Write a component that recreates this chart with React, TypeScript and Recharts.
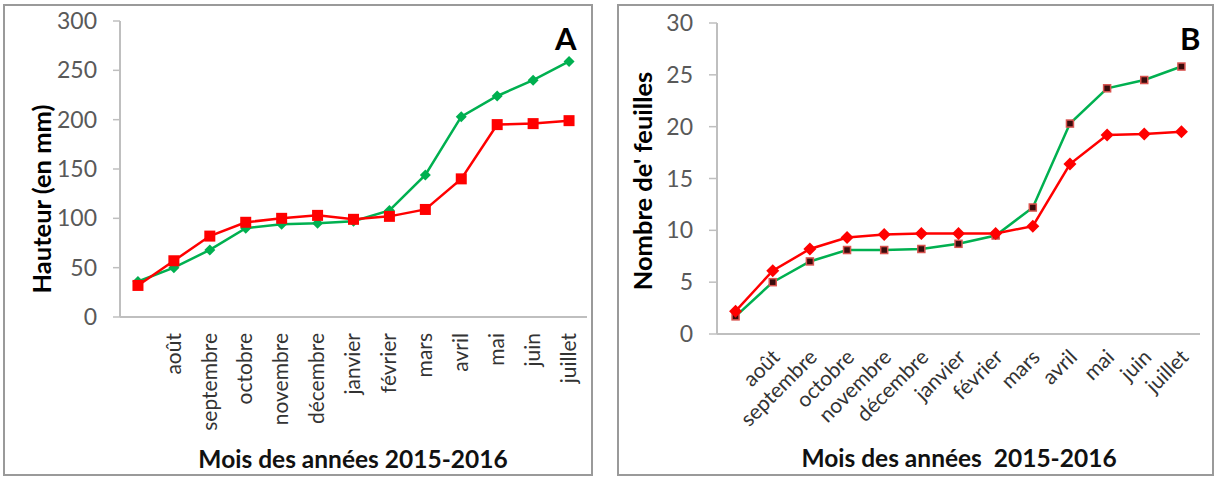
import { LineChart, Line, XAxis, YAxis } from "recharts";

const months = [
  "",
  "août",
  "septembre",
  "octobre",
  "novembre",
  "décembre",
  "janvier",
  "février",
  "mars",
  "avril",
  "mai",
  "juin",
  "juillet",
];

// A : hauteur (mm)
const hauteurVert = [36, 50, 68, 90, 94, 95, 97, 108, 144, 203, 224, 240, 259];
const hauteurRouge = [32, 57, 82, 96, 100, 103, 99, 102, 109, 140, 195, 196, 199];
const ticksA = [0, 50, 100, 150, 200, 250, 300];

// B : nombre de feuilles
const feuillesVert = [1.7, 5.0, 7.0, 8.1, 8.1, 8.2, 8.7, 9.5, 12.2, 20.3, 23.7, 24.5, 25.8];
const feuillesRouge = [2.2, 6.1, 8.2, 9.3, 9.6, 9.7, 9.7, 9.7, 10.4, 16.4, 19.2, 19.3, 19.5];
const ticksB = [0, 5, 10, 15, 20, 25, 30];

const GREEN = "#00b050";
const RED = "#ff0000";
const AXIS = "#bfbfbf";
const FONT = "Lato, 'Noto Sans', sans-serif";

const dataA = months.map((m, i) => ({ mois: m, vert: hauteurVert[i], rouge: hauteurRouge[i] }));
const dataB = months.map((m, i) => ({ mois: m, vert: feuillesVert[i], rouge: feuillesRouge[i] }));

const diamond = (r: number, fill: string) => (props: any) => {
  const { cx, cy, index } = props;
  if (cx == null || cy == null) return <g key={index} />;
  return (
    <polygon
      key={index}
      points={`${cx},${cy - r} ${cx + r},${cy} ${cx},${cy + r} ${cx - r},${cy}`}
      fill={fill}
    />
  );
};

const square = (s: number, fill: string) => (props: any) => {
  const { cx, cy, index } = props;
  if (cx == null || cy == null) return <g key={index} />;
  return <rect key={index} x={cx - s / 2} y={cy - s / 2} width={s} height={s} fill={fill} />;
};

const darkSquare = (props: any) => {
  const { cx, cy, index } = props;
  if (cx == null || cy == null) return <g key={index} />;
  return (
    <rect
      key={index}
      x={cx - 3.5}
      y={cy - 3.5}
      width={7}
      height={7}
      fill="#3a0c0c"
      stroke="#d9534f"
      strokeWidth={1.5}
    />
  );
};

const VerticalTick = (props: any) => {
  const { x, y, payload } = props;
  const ty = y + 16;
  return (
    <text
      x={x}
      y={ty}
      dy="0.32em"
      transform={`rotate(-90 ${x} ${ty})`}
      textAnchor="end"
      fill="#333"
      fontSize={21}
      fontFamily={FONT}
    >
      {payload.value}
    </text>
  );
};

const SlantTick = (props: any) => {
  const { x, y, payload } = props;
  const tx = x + 4;
  const ty = y + 20;
  return (
    <text
      x={tx}
      y={ty}
      dy="0.3em"
      transform={`rotate(-45 ${tx} ${ty})`}
      textAnchor="end"
      fill="#333"
      fontSize={21}
      fontFamily={FONT}
    >
      {payload.value}
    </text>
  );
};

const yTitle = (text: string, cx: number, cy: number) => () => (
  <text
    x={cx}
    y={cy}
    dy="0.35em"
    transform={`rotate(-90 ${cx} ${cy})`}
    textAnchor="middle"
    fontSize={25.5}
    fontWeight={700}
    fontFamily={FONT}
    fill="#000"
  >
    {text}
  </text>
);

const xTitle = (text: string, cx: number, baseline: number) => () => (
  <text
    x={cx}
    y={baseline}
    textAnchor="middle"
    fontSize={24.5}
    fontWeight={700}
    fontFamily={FONT}
    fill="#111"
    style={{ whiteSpace: "pre" }}
  >
    {text}
  </text>
);

const panelBorder = (left: number, width: number) => ({
  position: "absolute" as const,
  left,
  top: 4,
  width,
  height: 472,
  border: "2px solid #9a9a9a",
  boxSizing: "border-box" as const,
});

const letter = (left: number) => ({
  position: "absolute" as const,
  left,
  top: 18,
  fontFamily: FONT,
  fontWeight: 700,
  fontSize: 31,
  lineHeight: "40px",
  color: "#000",
});

export default function App() {
  const plotA = 467;
  const plotB = 483;
  const padA = plotA / (2 * months.length);
  const padB = plotB / (2 * months.length);

  return (
    <div style={{ position: "absolute", left: 0, top: 0, width: 1220, height: 481, background: "#fff" }}>
      <div style={panelBorder(3, 590)} />
      <div style={panelBorder(617, 597)} />

      <div style={{ position: "absolute", left: 0, top: 0 }}>
        <LineChart width={610} height={481} data={dataA} margin={{ top: 21, right: 23, left: 0, bottom: 0 }}>
          <XAxis
            dataKey="mois"
            height={164}
            padding={{ left: padA, right: padA }}
            axisLine={{ stroke: AXIS, strokeWidth: 2 }}
            tickLine={false}
            tickSize={0}
            tickMargin={0}
            interval={0}
            tick={<VerticalTick />}
            label={xTitle("Mois des années 2015-2016", 353, 468)}
          />
          <YAxis
            width={120}
            domain={[0, 300]}
            ticks={ticksA}
            axisLine={{ stroke: AXIS, strokeWidth: 2 }}
            tickLine={{ stroke: AXIS, strokeWidth: 1.5 }}
            tickSize={7}
            tickMargin={16}
            tick={{ fill: "#595959", fontSize: 23, fontFamily: FONT }}
            label={yTitle("Hauteur (en mm)", 42, 199)}
          />
          <Line
            dataKey="vert"
            stroke={GREEN}
            strokeWidth={2.5}
            dot={diamond(5.5, GREEN)}
            isAnimationActive={false}
          />
          <Line
            dataKey="rouge"
            stroke={RED}
            strokeWidth={2.5}
            dot={square(11, RED)}
            isAnimationActive={false}
          />
        </LineChart>
      </div>

      <div style={{ position: "absolute", left: 610, top: 0 }}>
        <LineChart width={610} height={481} data={dataB} margin={{ top: 23, right: 20, left: 0, bottom: 0 }}>
          <XAxis
            dataKey="mois"
            height={147}
            padding={{ left: padB, right: padB }}
            axisLine={{ stroke: AXIS, strokeWidth: 2 }}
            tickLine={false}
            tickSize={0}
            tickMargin={0}
            interval={0}
            tick={<SlantTick />}
            label={xTitle("Mois des années  2015-2016", 349, 467)}
          />
          <YAxis
            width={107}
            domain={[0, 30]}
            ticks={ticksB}
            axisLine={{ stroke: AXIS, strokeWidth: 2 }}
            tickLine={{ stroke: AXIS, strokeWidth: 1.5 }}
            tickSize={8}
            tickMargin={16}
            tick={{ fill: "#595959", fontSize: 23, fontFamily: FONT }}
            label={yTitle("Nombre de' feuilles", 33, 181)}
          />
          <Line
            dataKey="vert"
            stroke={GREEN}
            strokeWidth={2.5}
            dot={darkSquare}
            isAnimationActive={false}
          />
          <Line
            dataKey="rouge"
            stroke={RED}
            strokeWidth={2.5}
            dot={diamond(6.5, RED)}
            isAnimationActive={false}
          />
        </LineChart>
      </div>

      <div style={letter(555)}>A</div>
      <div style={letter(1180)}>B</div>
    </div>
  );
}
